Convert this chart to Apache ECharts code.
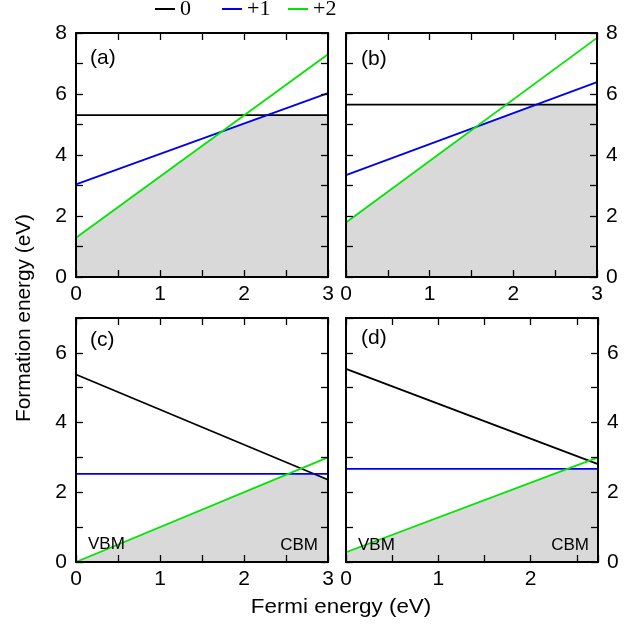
<!DOCTYPE html>
<html>
<head>
<meta charset="utf-8">
<script src="https://cdn.jsdelivr.net/npm/echarts@6/dist/echarts.min.js"></script>
<style>html,body{margin:0;padding:0;background:#fff}#c{width:644px;height:630px}</style>
</head>
<body>
<div id="c"></div>
<script>
// ---- data ----
const seriesNames = ['0', '+1', '+2'];
const seriesColors = ['#000000', '#0000ee', '#00e600'];
const panelLabels = ['(a)', '(b)', '(c)', '(d)'];
const fermiRange = [[0, 3], [0, 3], [0, 3], [0, 2.73]];
const yMaxes = [8, 8, 7, 7];
// formation energy at start and end of Fermi range, per panel
const charge0 = [[5.31, 5.31], [5.65, 5.65], [5.38, 2.36], [5.54, 2.81]];
const chargePlus1 = [[3.04, 6.03], [3.34, 6.39], [2.53, 2.53], [2.67, 2.67]];
const chargePlus2 = [[1.29, 7.30], [1.79, 7.84], [0.0, 3.0], [0.28, 3.0]];
const xTickLabels = ['0', '1', '2', '3'];
const yTickLabels = ['0', '2', '4', '6', '8'];

const FONT = 'Liberation Sans, Arial, Helvetica, sans-serif';
const grids = [
  {left: 76, top: 33, width: 252, height: 244},
  {left: 346, top: 33, width: 251, height: 244},
  {left: 76, top: 318, width: 252, height: 244},
  {left: 346, top: 318, width: 252, height: 244}
];

function lineEnds(i) {
  return [charge0[i], chargePlus1[i], chargePlus2[i]];
}
// lower envelope of the straight lines in panel i
function envelope(i) {
  const [x0, x1] = fermiRange[i];
  const L = lineEnds(i).map(e => ({a: e[0], b: (e[1] - e[0]) / (x1 - x0)}));
  const xs = [x0, x1];
  for (let p = 0; p < L.length; p++) for (let q = p + 1; q < L.length; q++) {
    const db = L[p].b - L[q].b;
    if (Math.abs(db) > 1e-9) {
      const x = x0 + (L[q].a - L[p].a) / db;
      if (x > x0 && x < x1) xs.push(x);
    }
  }
  xs.sort((u, v) => u - v);
  return xs.map(x => [x, Math.min(...L.map(l => l.a + l.b * (x - x0)))]);
}

const axisLineStyle = {show: true, onZero: false, lineStyle: {color: '#000', width: 2}};
const tickStyle = {show: true, inside: true, length: 7, lineStyle: {color: '#000', width: 1.3}};

const xAxes = [], yAxes = [], series = [];
grids.forEach((g, i) => {
  const [xmin, xmax] = fermiRange[i];
  const xCommon = {
    type: 'value', gridIndex: i, min: xmin, max: xmax, interval: 0.5, z: 5,
    axisLine: axisLineStyle, axisTick: tickStyle, splitLine: {show: false}
  };
  xAxes.push(Object.assign({}, xCommon, {
    position: 'bottom',
    axisLabel: {
      show: true, margin: 7, color: '#000', fontSize: 21, fontFamily: FONT,
      formatter: v => (Math.abs(v - Math.round(v)) < 1e-6 && xTickLabels.includes(String(Math.round(v)))) ? String(Math.round(v)) : ''
    }
  }));
  xAxes.push(Object.assign({}, xCommon, {position: 'top', axisLabel: {show: false}}));
  const yCommon = {
    type: 'value', gridIndex: i, min: 0, max: yMaxes[i], interval: 1, z: 5,
    axisLine: axisLineStyle, axisTick: tickStyle, splitLine: {show: false}
  };
  const yLab = {
    margin: 9, color: '#000', fontSize: 21, fontFamily: FONT,
    formatter: v => yTickLabels.includes(String(v)) ? String(v) : ''
  };
  yAxes.push(Object.assign({}, yCommon, {position: 'left',
    axisLabel: Object.assign({show: i % 2 === 0}, yLab)}));
  yAxes.push(Object.assign({}, yCommon, {position: 'right',
    axisLabel: Object.assign({show: i % 2 === 1}, yLab)}));

  series.push({
    type: 'line', xAxisIndex: 2 * i, yAxisIndex: 2 * i, data: envelope(i),
    symbol: 'none', silent: true, z: 1, lineStyle: {width: 0},
    areaStyle: {color: '#d9d9d9', opacity: 1}
  });
  lineEnds(i).forEach((e, k) => {
    series.push({
      type: 'line', name: seriesNames[k], xAxisIndex: 2 * i, yAxisIndex: 2 * i,
      data: [[xmin, e[0]], [xmax, e[1]]], symbol: 'none', z: 3,
      lineStyle: {color: seriesColors[k], width: 1.8},
      itemStyle: {color: seriesColors[k]}
    });
  });
});

const legendLefts = [155, 222, 288];
const legends = seriesNames.map((n, k) => ({
  data: [n], left: legendLefts[k], top: -2, padding: 0, icon: 'rect',
  itemWidth: 20, itemHeight: 2, selectedMode: false,
  textStyle: {fontFamily: 'Liberation Serif, Times New Roman, serif', fontSize: 22, color: '#000', lineHeight: 22}
}));

const labelPos = [[90, 58], [361, 59], [90, 340], [361, 338]];
const vbmPos = [[88, 544], [358, 545]];
const cbmPos = [[318, 545], [589, 545]];
const graphic = [];
panelLabels.forEach((t, i) => graphic.push({
  type: 'text', x: labelPos[i][0], y: labelPos[i][1], z: 10,
  style: {text: t, font: '21px ' + FONT, fill: '#000', align: 'left', verticalAlign: 'middle'}
}));
vbmPos.forEach(p => graphic.push({
  type: 'text', x: p[0], y: p[1], z: 10,
  style: {text: 'VBM', font: '17px ' + FONT, fill: '#000', align: 'left', verticalAlign: 'middle'}
}));
cbmPos.forEach(p => graphic.push({
  type: 'text', x: p[0], y: p[1], z: 10,
  style: {text: 'CBM', font: '17px ' + FONT, fill: '#000', align: 'right', verticalAlign: 'middle'}
}));
graphic.push({
  type: 'text', x: 341, y: 607, scaleX: 1.12, z: 10,
  style: {text: 'Fermi energy (eV)', font: '20px ' + FONT, fill: '#000', align: 'center', verticalAlign: 'middle'}
});
graphic.push({
  type: 'text', x: 24, y: 318, rotation: Math.PI / 2, scaleX: 1.04, z: 10,
  style: {text: 'Formation energy (eV)', font: '20px ' + FONT, fill: '#000', align: 'center', verticalAlign: 'middle'}
});

const chart = echarts.init(document.getElementById('c'), null, {renderer: 'canvas'});
chart.setOption({
  animation: false,
  backgroundColor: '#fff',
  grid: grids,
  xAxis: xAxes,
  yAxis: yAxes,
  legend: legends,
  series: series,
  graphic: graphic
});
</script>
</body>
</html>
